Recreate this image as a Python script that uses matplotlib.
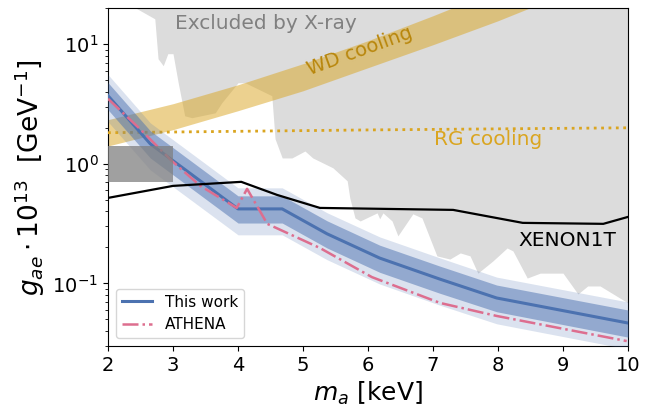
import matplotlib
matplotlib.use("Agg")
import matplotlib.pyplot as plt
from matplotlib.patches import Rectangle

# X-ray exclusion (lower boundary; region above excluded)
xray_m = [2.43, 2.72, 2.77, 2.85, 2.92, 3.00, 3.08, 3.18, 3.29, 3.65, 3.75, 4.00, 4.11,
          4.52, 4.57, 4.68, 4.83, 5.03, 5.15, 5.46, 5.68, 5.72, 5.80, 5.88, 6.14, 6.18,
          6.23, 6.37, 6.46, 6.69, 6.83, 7.06, 7.26, 7.42, 7.57, 7.69, 7.92, 8.14, 8.23,
          8.45, 8.65, 9.00, 9.23, 9.38, 9.57, 10.0]
xray_g = [20.0, 16.3, 7.56, 6.61, 8.33, 8.33, 4.76, 2.52, 2.43, 2.67, 3.24, 4.76, 4.76,
          3.71, 1.62, 1.12, 1.12, 1.28, 1.12, 0.926, 0.721, 0.519, 0.353, 0.333, 0.389, 0.347,
          0.389, 0.333, 0.250, 0.382, 0.353, 0.170, 0.160, 0.180, 0.170, 0.122, 0.154, 0.198, 0.187,
          0.111, 0.122, 0.122, 0.0817, 0.0953, 0.0953, 0.0687]

# WD cooling band
wd_m = [2, 3, 4, 5, 6, 7, 8, 9, 10]
wd_lo = [1.41, 1.93, 2.78, 4.08, 6.36, 9.9, 15.7, 26.0, 44.0]
wd_hi = [2.34, 3.18, 4.58, 6.87, 10.7, 17.3, 28.6, 48.0, 80.0]

# RG cooling
rg_m = [2, 4, 6, 8, 10]
rg_g = [1.82, 1.87, 1.92, 1.96, 2.0]

# XENON1T
xe_m = [2.0, 3.0, 4.05, 4.6, 5.26, 7.31, 8.38, 9.62, 10.0]
xe_g = [0.519, 0.654, 0.707, 0.550, 0.428, 0.412, 0.321, 0.315, 0.360]

# This work
tw_m = [2.0, 2.65, 4.0, 4.68, 5.37, 6.18, 7.1, 7.98, 10.0]
tw_g = [3.71, 1.47, 0.420, 0.420, 0.260, 0.163, 0.109, 0.0756, 0.0467]
tw_lo1 = [2.83, 1.12, 0.320, 0.320, 0.198, 0.124, 0.083, 0.058, 0.0356]
tw_hi1 = [4.77, 1.89, 0.54, 0.54, 0.334, 0.209, 0.140, 0.097, 0.060]
tw_lo2 = [2.25, 0.89, 0.255, 0.255, 0.158, 0.099, 0.066, 0.046, 0.0283]
tw_hi2 = [5.57, 2.2, 0.63, 0.63, 0.39, 0.245, 0.164, 0.113, 0.070]

# ATHENA
at_m = [2.0, 2.49, 2.98, 3.42, 3.98, 4.14, 4.45, 5.26, 6.06, 7.11, 7.98, 9.98]
at_g = [3.50, 1.96, 1.06, 0.654, 0.428, 0.618, 0.315, 0.198, 0.113, 0.0687, 0.0535, 0.0330]

# grey box
box_m = [2.0, 3.0]
box_g = [0.7, 1.4]

blue = '#4c72b0'
pink = '#dd6e8f'

fig = plt.figure(figsize=(6.53, 4.09), dpi=100)
ax = fig.add_axes([0.1654, 0.154, 0.7963, 0.826])

ax.fill_between(xray_m, xray_g, 100, color='#dcdcdc', lw=0, zorder=1)
ax.fill_between(wd_m, wd_lo, wd_hi, color='goldenrod', alpha=0.5, lw=0, zorder=2)
ax.plot(rg_m, rg_g, ls=':', color='goldenrod', lw=2, zorder=3)
ax.plot(xe_m, xe_g, color='black', lw=1.6, zorder=5)
ax.fill_between(tw_m, tw_lo2, tw_hi2, color=blue, alpha=0.2, lw=0, zorder=3)
ax.fill_between(tw_m, tw_lo1, tw_hi1, color=blue, alpha=0.5, lw=0, zorder=3)
ax.plot(tw_m, tw_g, color=blue, lw=2.2, label='This work', zorder=4)
ax.plot(at_m, at_g, color=pink, lw=1.8, ls='-.', label='ATHENA', zorder=4)
ax.add_patch(Rectangle((box_m[0], box_g[0]), box_m[1] - box_m[0], box_g[1] - box_g[0],
                       color='gray', alpha=0.75, lw=0, zorder=4))

ax.set_yscale('log')
ax.set_xlim(2, 10)
ax.set_ylim(0.03, 20)

ax.text(4.43, 14.9, 'Excluded by X-ray', color='gray', fontsize=14.5, ha='center', va='center')
ax.text(5.88, 8.8, 'WD cooling', color='darkgoldenrod', fontsize=14, ha='center', va='center', rotation=20)
ax.text(7.85, 1.59, 'RG cooling', color='goldenrod', fontsize=14.5, ha='center', va='center')
ax.text(9.06, 0.227, 'XENON1T', color='black', fontsize=14.5, ha='center', va='center')

ax.tick_params(labelsize=14)
ax.set_xlabel(r'$m_a$ [keV]', fontsize=18)
ax.set_ylabel(r'$g_{ae}\cdot 10^{13}$  [GeV$^{-1}$]', fontsize=19)
ax.legend(loc='lower left', fontsize=11, framealpha=0.8)

fig.savefig('out.png', dpi=100)
